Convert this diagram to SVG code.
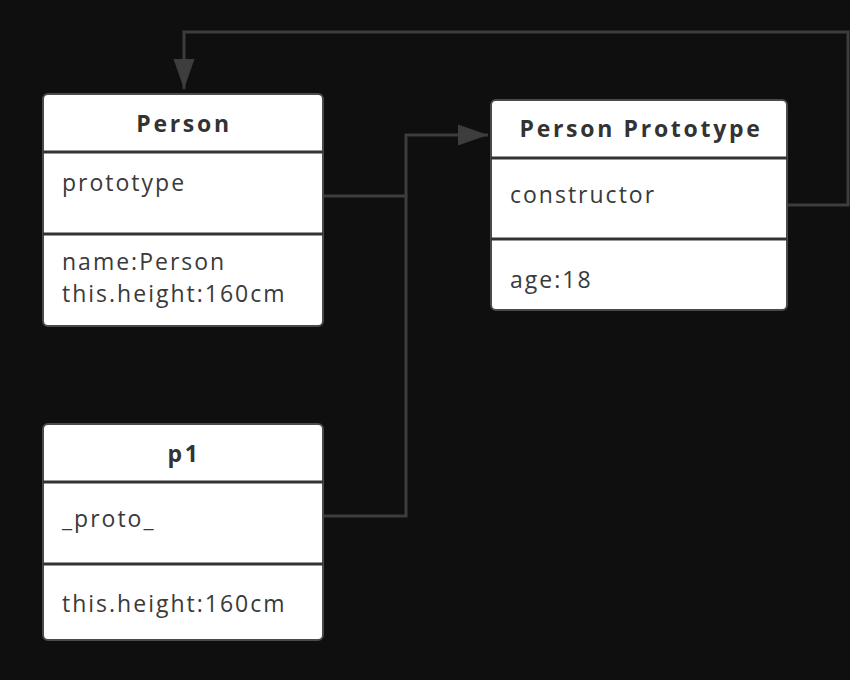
<svg xmlns="http://www.w3.org/2000/svg" width="850" height="680" viewBox="0 0 850 680">
<style>
.box{fill:#ffffff;stroke:#4a4a4a;stroke-width:2}
.div{stroke:#333333;stroke-width:3}
.hd{font-family:"Open Sans","Noto Sans",sans-serif;font-weight:bold;font-size:23px;fill:#333333;letter-spacing:2.7px;text-anchor:middle}
.tx{font-family:"Open Sans","Noto Sans",sans-serif;font-size:23px;fill:#3a3a3a;letter-spacing:2px}
.ln{fill:none;stroke:#3d3d3d;stroke-width:3}
</style>
<defs>
<marker id="arr" markerUnits="userSpaceOnUse" markerWidth="30" markerHeight="22" refX="30" refY="11" orient="auto">
<path d="M0,0.5 L30,11 L0,21.5 z" fill="#3d3d3d"/>
</marker>
</defs>
<rect width="850" height="680" fill="#0f0f0f"/>
<g id="connectors">
<path class="ln" d="M323,196 H406 V135 H488" marker-end="url(#arr)"/>
<path class="ln" d="M323,516 H406 V196"/>
<path class="ln" d="M787,205 H848 V32 H184 V89" marker-end="url(#arr)"/>
</g>
<g id="person">
<rect class="box" x="43" y="94" width="280" height="232" rx="5"/>
<line class="div" x1="43" y1="152" x2="323" y2="152"/>
<line class="div" x1="43" y1="234" x2="323" y2="234"/>
<text class="hd" x="184" y="132">Person</text>
<text class="tx" x="62" y="191">prototype</text>
<text class="tx" x="62" y="270">name:Person</text>
<text class="tx" x="62" y="302">this.height:160cm</text>
</g>
<g id="person-prototype">
<rect class="box" x="491" y="100" width="296" height="210" rx="5"/>
<line class="div" x1="491" y1="158" x2="787" y2="158"/>
<line class="div" x1="491" y1="239" x2="787" y2="239"/>
<text class="hd" x="641" y="137">Person Prototype</text>
<text class="tx" x="510" y="203">constructor</text>
<text class="tx" x="510" y="288">age:18</text>
</g>
<g id="p1">
<rect class="box" x="43" y="424" width="280" height="216" rx="5"/>
<line class="div" x1="43" y1="482" x2="323" y2="482"/>
<line class="div" x1="43" y1="564" x2="323" y2="564"/>
<text class="hd" x="184" y="462">p1</text>
<text class="tx" x="62" y="527">_proto_</text>
<text class="tx" x="62" y="612">this.height:160cm</text>
</g>
</svg>
